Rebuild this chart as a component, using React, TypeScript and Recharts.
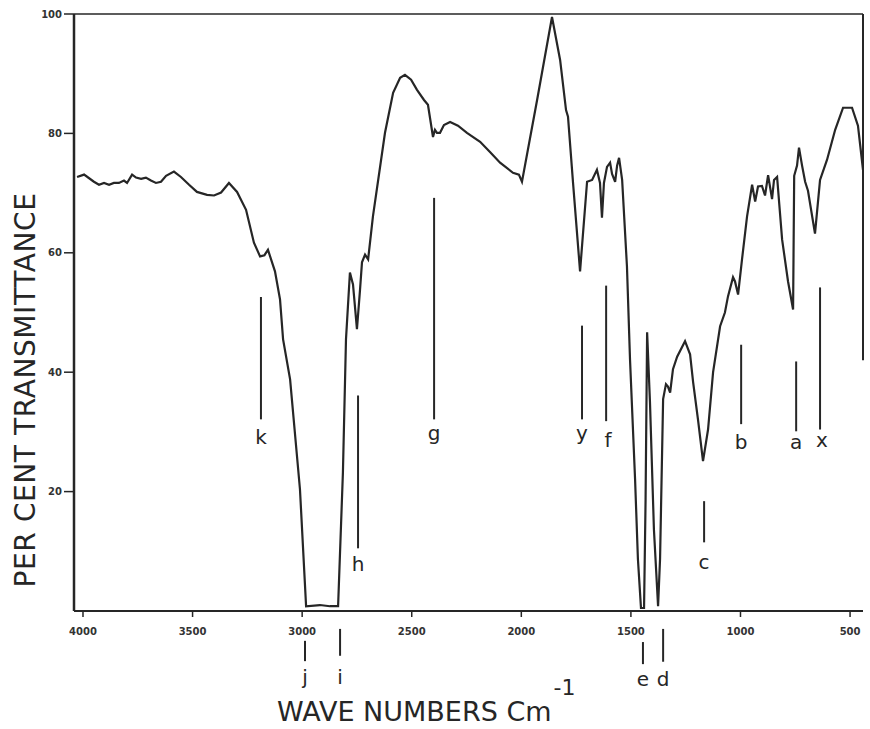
import React from 'react'
import { LineChart, Line, XAxis, YAxis, ReferenceLine, ReferenceDot, Label } from 'recharts'

// IR spectrum (wave number cm-1, % transmittance)
const waveNumbers = [
  4027, 3995, 3950, 3927, 3904, 3881, 3859, 3836, 3813, 3799, 3776, 3758, 3735, 3713, 3690,
  3667, 3644, 3621, 3585, 3553, 3516, 3480, 3434, 3402, 3370, 3334, 3297, 3256, 3220, 3192,
  3172, 3156, 3124, 3101, 3087, 3055, 3010, 2982, 2919, 2873, 2836, 2814, 2800, 2782, 2768,
  2750, 2736, 2727, 2713, 2699, 2677, 2622, 2585, 2553, 2531, 2503, 2476, 2444, 2426, 2403,
  2394, 2385, 2371, 2353, 2325, 2289, 2248, 2188, 2143, 2097, 2038, 2011, 1997, 1928, 1860,
  1823, 1796, 1787, 1764, 1732, 1700, 1677, 1655, 1641, 1632, 1623, 1609, 1595, 1586, 1572,
  1563, 1554, 1540, 1518, 1504, 1481, 1468, 1454, 1440, 1433, 1426, 1413, 1395, 1376, 1367,
  1353, 1340, 1331, 1321, 1308, 1289, 1253, 1230, 1216, 1194, 1171, 1148, 1125, 1093, 1071,
  1057, 1034, 1025, 1011, 993, 970, 947, 933, 920, 902, 888, 874, 856, 847, 833,
  810, 783, 760, 755, 742, 733, 719, 705, 692, 660, 637, 605, 568, 532, 491,
  464, 441,
]
const transmittance = [
  72.7, 73.1, 71.9, 71.4, 71.7, 71.4, 71.7, 71.7, 72.1, 71.7, 73.1, 72.6, 72.4, 72.6, 72.1,
  71.7, 71.9, 72.9, 73.6, 72.7, 71.4, 70.2, 69.7, 69.6, 70.1, 71.7, 70.2, 67.2, 61.7, 59.4,
  59.6, 60.5, 56.9, 52.2, 45.5, 38.8, 20.4, 0.8, 1.0, 0.8, 0.8, 23.2, 45.5, 56.7, 54.7,
  47.2, 53.8, 58.4, 59.7, 58.9, 66.1, 80.1, 86.8, 89.3, 89.8, 89.0, 87.3, 85.6, 84.8, 79.4,
  80.6, 80.1, 80.1, 81.4, 81.9, 81.3, 80.1, 78.6, 76.9, 75.1, 73.4, 73.1, 71.9, 85.6, 99.5,
  92.3, 83.9, 82.8, 71.7, 56.9, 71.9, 72.2, 73.9, 71.7, 65.9, 71.7, 74.4, 75.1, 73.2, 71.9,
  74.6, 75.9, 72.2, 57.7, 42.1, 22.1, 8.7, 0.5, 0.5, 18.7, 46.7, 35.0, 13.7, 0.8, 8.7,
  35.5, 38.0, 37.6, 36.6, 40.5, 42.6, 45.2, 43.0, 38.3, 32.1, 25.1, 30.4, 40.0, 47.7, 50.0,
  52.7, 55.9, 55.2, 53.0, 58.9, 66.1, 71.4, 68.6, 71.1, 71.2, 69.6, 73.0, 69.0, 72.2, 72.7,
  62.2, 55.2, 50.5, 72.9, 74.6, 77.6, 74.6, 71.9, 70.4, 63.2, 72.2, 75.6, 80.6, 84.3, 84.3,
  81.3, 73.9,
]

const xTicks = [4000, 3500, 3000, 2500, 2000, 1500, 1000, 500]
const yTicks = [20, 40, 60, 80, 100]

// band markers: letter, wave number, line top / bottom, label centre
const markLetters = ['k', 'h', 'g', 'y', 'f', 'b', 'a', 'x', 'c', 'j', 'i', 'e', 'd']
const markWave = [3188, 2745, 2398, 1723, 1613, 997, 746, 637, 1166, 2987, 2827, 1445, 1353]
const markLabelWave = [3188, 2745, 2398, 1723, 1604, 997, 746, 628, 1166, 2987, 2827, 1445, 1353]
const markTop = [52.6, 36.1, 69.2, 47.8, 54.5, 44.6, 41.8, 54.2, 18.4, -5.0, -3.0, -5.2, -3.0]
const markBottom = [32.1, 10.5, 32.1, 32.1, 31.8, 31.3, 30.1, 30.4, 11.5, -8.4, -7.5, -8.9, -8.5]
const markLabelT = [29.1, 7.9, 29.9, 29.9, 28.6, 28.3, 28.3, 28.6, 8.2, -11.0, -11.0, -11.3, -11.3]

const data = waveNumbers.map((wn, i) => ({ wn, t: transmittance[i] }))

const ink = '#262626'
const font = '"DejaVu Sans", sans-serif'

export default function App() {
  return (
    <div style={{ position: 'absolute', left: 0, top: 0, background: '#fff' }}>
      <LineChart width={870} height={729} data={data} margin={{ top: 14, right: 7, bottom: 88, left: 0 }}>
        <XAxis
          dataKey="wn"
          type="number"
          domain={[441, 4041]}
          reversed
          allowDataOverflow
          ticks={xTicks}
          height={30}
          tickSize={6}
          tickMargin={11}
          axisLine={{ stroke: ink, strokeWidth: 2 }}
          tickLine={{ stroke: ink, strokeWidth: 1.5 }}
          tick={{ fontSize: 10, fontWeight: 'bold', fill: '#333', fontFamily: font }}
        >
          <Label
            content={() => (
              <text x={277} y={721} fill={ink} fontSize={27} fontFamily={font} textAnchor="start">
                WAVE NUMBERS Cm
                <tspan dx={2} dy={-26} fontSize={22}>-1</tspan>
              </text>
            )}
          />
        </XAxis>
        <YAxis
          type="number"
          domain={[0, 100]}
          ticks={yTicks}
          width={74}
          tickSize={10}
          tickMargin={2}
          axisLine={{ stroke: ink, strokeWidth: 2.5 }}
          tickLine={{ stroke: ink, strokeWidth: 1.5 }}
          tick={{ fontSize: 10, fontWeight: 'bold', fill: '#333', fontFamily: font }}
        >
          <Label
            content={() => (
              <text
                x={35}
                y={390}
                transform="rotate(-90, 35, 390)"
                fill={ink}
                fontSize={28}
                letterSpacing={0.6}
                fontFamily={font}
                textAnchor="middle"
              >
                PER CENT TRANSMITTANCE
              </text>
            )}
          />
        </YAxis>
        <ReferenceLine y={100} stroke={ink} strokeWidth={1.5} />
        <ReferenceLine
          segment={[{ x: 441, y: 100 }, { x: 441, y: 42 }]}
          stroke={ink}
          strokeWidth={2}
        />
        {markLetters.map((m, i) => (
          <ReferenceLine
            key={'l' + m}
            segment={[{ x: markWave[i], y: markTop[i] }, { x: markWave[i], y: markBottom[i] }]}
            stroke={ink}
            strokeWidth={2}
            ifOverflow="visible"
          />
        ))}
        {markLetters.map((m, i) => (
          <ReferenceDot
            key={'d' + m}
            x={markLabelWave[i]}
            y={markLabelT[i]}
            r={1}
            fill="none"
            stroke="none"
            ifOverflow="visible"
            label={{ value: m, position: 'center', fontSize: 20, fill: ink, fontFamily: font }}
          />
        ))}
        <Line
          dataKey="t"
          type="linear"
          stroke={ink}
          strokeWidth={2.2}
          dot={false}
          isAnimationActive={false}
        />
      </LineChart>
    </div>
  )
}
